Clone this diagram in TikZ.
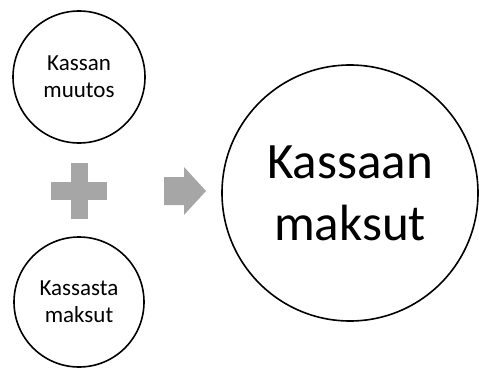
\documentclass[tikz,border=0pt]{standalone}
\usepackage{fontspec}
\setmainfont{Carlito}
\begin{document}
\begin{tikzpicture}[x=1pt,y=-1pt,
  bubble/.style={circle,draw=black,line width=1.6pt,fill=white,align=center,inner sep=0pt},
  symb/.style={fill=black!35,draw=none}]
\useasboundingbox (0,0) rectangle (479,369);
% input circles
\node[bubble,minimum size=132pt,font=\fontsize{23}{27}\selectfont] (muutos) at (79,77) {Kassan\\muutos};
\node[bubble,minimum size=130pt,font=\fontsize{23}{27}\selectfont] (kassasta) at (79,302) {Kassasta\\maksut};
% result circle
\node[bubble,minimum size=256pt,font=\fontsize{51}{62}\selectfont] (kassaan) at (350,193) {Kassaan\\maksut};
% plus sign
\node[symb,minimum width=56pt,minimum height=18pt,inner sep=0pt] (plush) at (79,191) {};
\node[symb,minimum width=17pt,minimum height=56pt,inner sep=0pt] (plusv) at (79,191) {};
% arrow
\coordinate (arr) at (164,191);
\fill[black!35] (arr) ++(0,-14) -- ++(20,0) -- ++(0,-10) -- ++(22,24) -- ++(-22,24) -- ++(0,-10) -- ++(-20,0) -- cycle;
\end{tikzpicture}
\end{document}
